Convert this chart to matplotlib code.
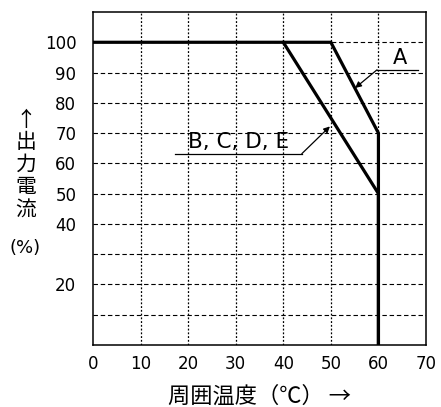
import matplotlib
matplotlib.use("Agg")
import matplotlib.pyplot as plt

plt.rcParams["font.family"] = ["DejaVu Sans", "Noto Sans CJK JP"]

# derating curves: ambient temperature (C) vs output current (%)
temp_a = [0, 50, 60, 60]
current_a = [100, 100, 70, 0]
temp_b = [40, 60, 60]
current_b = [100, 50, 0]

x_ticks = [0, 10, 20, 30, 40, 50, 60, 70]
y_grid = [10, 20, 30, 40, 50, 60, 70, 80, 90, 100]
y_labels = {20: "20", 40: "40", 50: "50", 60: "60", 70: "70", 80: "80", 90: "90", 100: "100"}

ylabel_chars = ["↑", "出", "力", "電", "流"]

jp = ["Noto Sans CJK JP", "DejaVu Sans"]

fig = plt.figure(figsize=(4.41, 4.07), dpi=100)
ax = fig.add_axes([93 / 441, 1 - 345 / 407, 333 / 441, 333 / 407])

ax.set_xlim(0, 70)
ax.set_ylim(0, 110)

# grid: dashed horizontals, dotted verticals
for y in y_grid:
    ax.axhline(y, color="black", linewidth=0.8, linestyle=(0, (4, 2.5)), zorder=1)
for x in x_ticks[1:-1]:
    ax.axvline(x, color="black", linewidth=0.9, linestyle=(0, (1.5, 1.5)), zorder=1)

ax.plot(temp_a, current_a, color="black", linewidth=2.3, solid_joinstyle="miter", zorder=3)
ax.plot(temp_b, current_b, color="black", linewidth=2.3, solid_joinstyle="miter", zorder=3)

ax.set_xticks(x_ticks)
ax.set_yticks(list(y_labels.keys()))
ax.set_yticklabels(list(y_labels.values()))
ax.tick_params(length=0, labelsize=12, pad=12)
ax.tick_params(axis="x", pad=7)
for s in ax.spines.values():
    s.set_linewidth(1.1)

# labels with leader lines
ax.plot([59.7, 68.3], [90.9, 90.9], color="black", linewidth=0.9)
ax.annotate("", xy=(55.1, 84.9), xytext=(59.7, 90.9),
            arrowprops=dict(arrowstyle="-|>", color="black", lw=0.9, mutation_scale=9,
                            shrinkA=0, shrinkB=0))
ax.text(64.5, 92.8, "A", fontsize=15, ha="center", va="baseline")

ax.plot([17.2, 43.9], [63.2, 63.2], color="black", linewidth=0.9)
ax.annotate("", xy=(49.8, 72.2), xytext=(43.9, 63.2),
            arrowprops=dict(arrowstyle="-|>", color="black", lw=0.9, mutation_scale=9,
                            shrinkA=0, shrinkB=0))
ax.text(30.7, 65.1, "B, C, D, E", fontsize=15.5, ha="center", va="baseline")

# vertical y label, one character per row
for i, ch in enumerate(ylabel_chars):
    fig.text(26 / 441, 1 - (120 + 22.5 * i) / 407, ch, fontsize=15, ha="center", va="center",
             family=jp)
fig.text(25 / 441, 1 - 248 / 407, "(%)", fontsize=13, ha="center", va="center")
fig.text(259 / 441, 1 - 396 / 407, "周囲温度（℃） →", fontsize=16, ha="center", va="center",
         family=jp)

fig.savefig("out.png", dpi=100)
